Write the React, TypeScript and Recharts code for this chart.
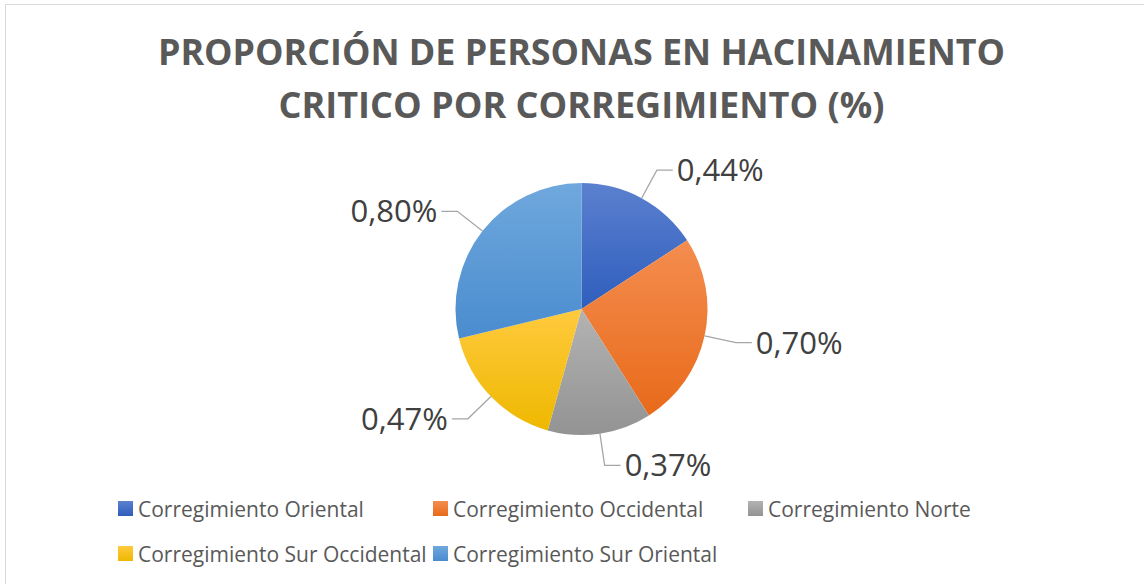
import React from 'react';
import { PieChart, Pie, Cell, Legend } from 'recharts';

// Datos del gráfico
const corregimientos = [
  'Corregimiento Oriental',
  'Corregimiento Occidental',
  'Corregimiento Norte',
  'Corregimiento Sur Occidental',
  'Corregimiento Sur Oriental',
];
const porcentajes = [0.44, 0.7, 0.37, 0.47, 0.8];
const tituloLineas = ['PROPORCIÓN DE PERSONAS EN HACINAMIENTO', 'CRITICO POR CORREGIMIENTO (%)'];

// Colores (degradado claro arriba, oscuro abajo)
const coloresClaros = ['#5b80cf', '#f48d4f', '#b3b3b3', '#ffca3e', '#6fa8dd'];
const coloresOscuros = ['#2f5ebd', '#e86a1a', '#939393', '#eeb800', '#4a8ccf'];

const RADIAN = Math.PI / 180;
const FUENTE = '"Open Sans", "Noto Sans", sans-serif';

const formato = (v: number) => v.toFixed(2).replace('.', ',') + '%';

const datos = corregimientos.map((nombre, i) => ({ nombre, valor: porcentajes[i] }));

// Etiqueta con línea guía tipo Excel
const renderEtiqueta = (props: any) => {
  const { cx, cy, midAngle, outerRadius, value } = props;
  const cos = Math.cos(-midAngle * RADIAN);
  const sin = Math.sin(-midAngle * RADIAN);
  const x0 = cx + outerRadius * cos;
  const y0 = cy + outerRadius * sin;
  const x1 = cx + (outerRadius + 32) * cos;
  const y1 = cy + (outerRadius + 32) * sin;
  const derecha = cos >= 0;
  const x2 = x1 + (derecha ? 16 : -16);
  const xt = x1 + (derecha ? 20 : -20);
  return (
    <g>
      <polyline
        points={`${x0},${y0} ${x1},${y1} ${x2},${y1}`}
        fill="none"
        stroke="#a6a6a6"
        strokeWidth={1.3}
      />
      <text
        x={xt}
        y={y1 + 11}
        textAnchor={derecha ? 'start' : 'end'}
        fontFamily={FUENTE}
        fontWeight={400}
        fontSize={31}
        fill="#404040"
      >
        {formato(value)}
      </text>
    </g>
  );
};

const LeyendaPersonalizada = () => (
  <div style={{ display: 'flex', flexWrap: 'wrap', width: 950 }}>
    {corregimientos.map((nombre, i) => (
      <div
        key={nombre}
        style={{ width: 315, height: 45, display: 'flex', alignItems: 'center' }}
      >
        <span
          style={{
            width: 15,
            height: 15,
            marginRight: 5,
            background: `linear-gradient(${coloresClaros[i]}, ${coloresOscuros[i]})`,
          }}
        />
        <span style={{ fontFamily: FUENTE, fontSize: 21, color: '#595959', whiteSpace: 'nowrap' }}>
          {nombre}
        </span>
      </div>
    ))}
  </div>
);

const App: React.FC = () => {
  return (
    <div style={{ position: 'absolute', left: 0, top: 0, width: 1144, height: 584, background: '#fff', overflow: 'hidden' }}>
      {/* Marco del gráfico */}
      <div
        style={{
          position: 'absolute',
          left: 5,
          top: 4,
          width: 1150,
          height: 600,
          border: '1px solid #d9d9d9',
        }}
      />
      {/* Título */}
      <svg width={1144} height={140} style={{ position: 'absolute', left: 0, top: 0 }}>
        <text
          x={581.5}
          y={65}
          textAnchor="middle"
          fontFamily={FUENTE}
          fontWeight={700}
          fontSize={36}
          fill="#595959"
          textLength={847}
          lengthAdjust="spacingAndGlyphs"
        >
          {tituloLineas[0]}
        </text>
        <text
          x={581.5}
          y={118}
          textAnchor="middle"
          fontFamily={FUENTE}
          fontWeight={700}
          fontSize={36}
          fill="#595959"
          textLength={606}
          lengthAdjust="spacingAndGlyphs"
        >
          {tituloLineas[1]}
        </text>
      </svg>
      <div style={{ position: 'absolute', left: 0, top: 0 }}>
        <PieChart width={1144} height={584} margin={{ top: 0, right: 0, bottom: 0, left: 0 }}>
          <defs>
            {coloresClaros.map((c, i) => (
              <linearGradient key={i} id={`grad${i}`} x1="0" y1="0" x2="0" y2="1">
                <stop offset="0%" stopColor={c} />
                <stop offset="100%" stopColor={coloresOscuros[i]} />
              </linearGradient>
            ))}
          </defs>
          <Pie
            data={datos}
            dataKey="valor"
            nameKey="nombre"
            cx={581.5}
            cy={309}
            outerRadius={126}
            startAngle={90}
            endAngle={-270}
            stroke="none"
            label={renderEtiqueta}
            labelLine={false}
            isAnimationActive={false}
          >
            {datos.map((d, i) => (
              <Cell key={d.nombre} fill={`url(#grad${i})`} />
            ))}
          </Pie>
          <Legend
            content={() => <LeyendaPersonalizada />}
            wrapperStyle={{ position: 'absolute', left: 118, top: 486, width: 950 }}
          />
        </PieChart>
      </div>
    </div>
  );
};

export default App;
